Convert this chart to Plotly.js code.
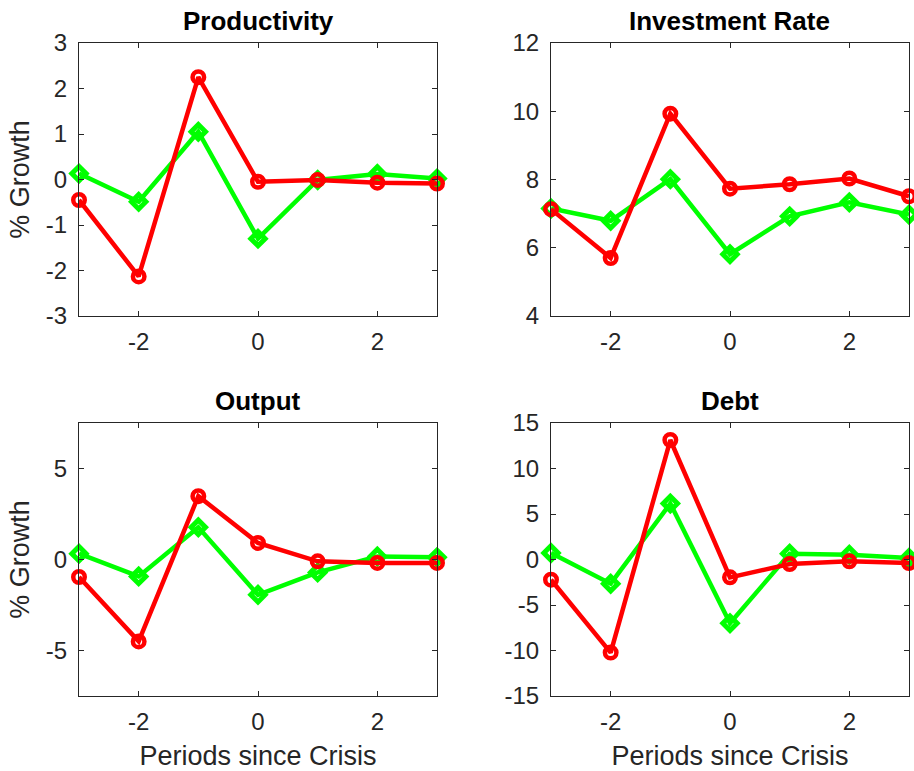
<!DOCTYPE html>
<html>
<head>
<meta charset="utf-8">
<script src="https://cdn.plot.ly/plotly-3.0.1.min.js"></script>
<style>html,body{margin:0;padding:0;background:#fff;}#chart{width:914px;height:771px;}</style>
</head>
<body>
<div id="chart"></div>
<script>
const periods = [-3, -2, -1, 0, 1, 2, 3];
const panelTitles = ["Productivity", "Investment Rate", "Output", "Debt"];

const productivityGreen = [0.13, -0.49, 1.05, -1.30, -0.01, 0.12, 0.02];
const productivityRed   = [-0.45, -2.13, 2.25, -0.05, -0.01, -0.07, -0.09];

const investmentGreen = [7.15, 6.79, 8.01, 5.81, 6.92, 7.33, 6.97];
const investmentRed   = [7.13, 5.70, 9.93, 7.73, 7.86, 8.03, 7.51];

const outputGreen = [0.32, -0.93, 1.77, -1.94, -0.71, 0.17, 0.12];
const outputRed   = [-0.96, -4.50, 3.48, 0.91, -0.10, -0.19, -0.19];

const debtGreen = [0.72, -2.66, 6.15, -7.00, 0.64, 0.53, 0.17];
const debtRed   = [-2.22, -10.23, 13.13, -1.96, -0.50, -0.20, -0.39];

const yRanges = [[-3, 3], [4, 12], [-7.5, 7.5], [-15, 15]];
const yTicks = [[-3, -2, -1, 0, 1, 2, 3], [4, 6, 8, 10, 12], [-5, 0, 5], [-15, -10, -5, 0, 5, 10, 15]];
const xTicks = [-2, 0, 2];

const greenSeries = [productivityGreen, investmentGreen, outputGreen, debtGreen];
const redSeries = [productivityRed, investmentRed, outputRed, debtRed];

const GREEN = "#00ff00", RED = "#ff0000", INK = "#262626";
const FONT = "Liberation Sans, Arial, Helvetica, sans-serif";

const W = 914, H = 771;
const xPix = [[79, 437], [551, 909], [79, 437], [551, 909]];
const yPix = [[43, 316], [43, 316], [423, 696], [423, 696]];

const label = v => String(v);  // plain hyphen-minus like the reference

const traces = [];
const layout = {
  width: W, height: H,
  margin: {l: 0, r: 0, t: 0, b: 0},
  paper_bgcolor: "#fff", plot_bgcolor: "#fff",
  showlegend: false,
  font: {family: FONT, color: INK},
  annotations: []
};

for (let i = 0; i < 4; i++) {
  const ax = i === 0 ? "" : String(i + 1);
  traces.push({
    x: periods, y: greenSeries[i], xaxis: "x" + ax, yaxis: "y" + ax,
    mode: "lines+markers", cliponaxis: false,
    line: {color: GREEN, width: 4.5},
    marker: {symbol: "diamond-open", size: 11, color: GREEN, line: {color: GREEN, width: 5}}
  });
  traces.push({
    x: periods, y: redSeries[i], xaxis: "x" + ax, yaxis: "y" + ax,
    mode: "lines+markers", cliponaxis: false,
    line: {color: RED, width: 4.5},
    marker: {symbol: "circle-open", size: 11.5, color: RED, line: {color: RED, width: 4.5}}
  });
  const xd = [xPix[i][0] / W, xPix[i][1] / W];
  const yd = [1 - yPix[i][1] / H, 1 - yPix[i][0] / H];
  const common = {
    showline: true, linecolor: INK, linewidth: 1, mirror: "ticks",
    ticks: "inside", ticklen: 5, tickcolor: INK, tickwidth: 1,
    showgrid: false, zeroline: false,
    tickfont: {family: FONT, size: 24, color: INK}
  };
  layout["xaxis" + ax] = Object.assign({}, common, {
    domain: xd, range: [-3, 3], tickmode: "array", tickvals: xTicks, ticktext: xTicks.map(label),
    anchor: "y" + ax, ticklabelstandoff: 4,
    title: i >= 2 ? {text: "Periods since Crisis", font: {family: FONT, size: 27, color: INK}, standoff: 12} : undefined
  });
  layout["yaxis" + ax] = Object.assign({}, common, {
    domain: yd, range: yRanges[i], tickmode: "array", tickvals: yTicks[i], ticktext: yTicks[i].map(label),
    anchor: "x" + ax, ticklabelstandoff: 6,
    title: (i % 2 === 0) ? {text: "% Growth", font: {family: FONT, size: 27, color: INK}, standoff: 8} : undefined
  });
  layout.annotations.push({
    text: "<b>" + panelTitles[i] + "</b>",
    xref: "paper", yref: "paper",
    x: (xd[0] + xd[1]) / 2, y: yd[1],
    xanchor: "center", yanchor: "bottom", yshift: 5,
    showarrow: false,
    font: {family: FONT, size: 26, color: "#000"}
  });
}

Plotly.newPlot("chart", traces, layout, {displayModeBar: false, staticPlot: true});
</script>
</body>
</html>
